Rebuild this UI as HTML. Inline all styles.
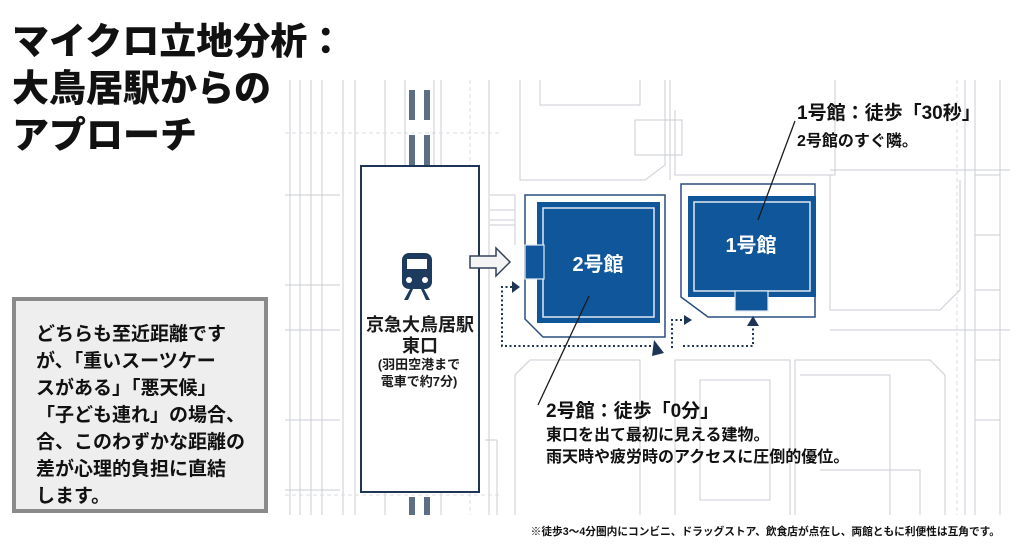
<!DOCTYPE html>
<html><head><meta charset="utf-8"><style>
html,body{margin:0;padding:0;background:#fff;}
body{width:1024px;height:552px;position:relative;overflow:hidden;font-family:"Liberation Sans","Noto Sans CJK JP",sans-serif;}
.t{position:absolute;left:12px;top:18px;font-size:37px;font-weight:900;line-height:47px;color:#111;}
.box{position:absolute;left:12px;top:297px;width:248px;height:208px;border:4px solid #8a8a8a;background:#eeeeee;}
.box div{position:absolute;left:20px;top:20px;font-size:19px;font-weight:bold;line-height:27px;color:#111;white-space:nowrap;}
svg{position:absolute;left:0;top:0;}
</style></head><body>
<svg width="1024" height="552" viewBox="0 0 1024 552" font-family="Liberation Sans, Noto Sans CJK JP, sans-serif">
<g stroke="#c9ced6" stroke-width="1" fill="none">
 <line x1="290" y1="80" x2="290" y2="515"/><line x1="300" y1="80" x2="300" y2="515"/>
 <line x1="311" y1="80" x2="311" y2="515"/><line x1="322" y1="80" x2="322" y2="515"/>
 <line x1="343" y1="80" x2="343" y2="515"/><line x1="355" y1="80" x2="355" y2="515"/>
 <line x1="385" y1="80" x2="385" y2="165"/><line x1="441" y1="80" x2="441" y2="165"/>
 <line x1="385" y1="492" x2="385" y2="515"/><line x1="441" y1="492" x2="441" y2="515"/>
 <line x1="489" y1="80" x2="489" y2="515"/>
 <path d="M520 80 V180 H645 L665 165 V80"/>
 <path d="M540 80 V105 H640 V80"/>
 <line x1="670" y1="80" x2="670" y2="180"/>
 <path d="M675 110 V175 H835 V80"/>
 <path d="M635 120 V155 H682 V120 Z"/>
 <line x1="830" y1="170" x2="1010" y2="170"/>
 <path d="M830 175 V310 H940 L960 290 V180"/>
 <line x1="965" y1="80" x2="965" y2="515"/><line x1="975" y1="80" x2="975" y2="515"/>
 <line x1="1000" y1="80" x2="1000" y2="515"/>
 <path d="M975 175 H1000 M975 235 H1000 M975 290 H1000 M975 330 H1000 M975 360 H1000 M975 420 H1000"/>
 <line x1="285" y1="195" x2="340" y2="195"/><line x1="285" y1="285" x2="340" y2="285"/>
 <line x1="285" y1="330" x2="340" y2="330"/><line x1="285" y1="420" x2="340" y2="420"/>
 <line x1="285" y1="490" x2="340" y2="490"/>
 <path d="M515 515 V375 L530 360 H640 V515"/>
 <path d="M675 515 V360 H790 V515"/>
 <path d="M795 515 V360 H930 L945 375 V515"/>
 <path d="M700 380 H770 V500 H700 Z"/>
 <path d="M800 375 H890 V515"/>
 <path d="M820 470 H920 V515"/>
 <line x1="830" y1="330" x2="1010" y2="330"/>
 <path d="M490 195 H515 V245 M490 210 H515 M490 220 H515 M490 225 H515"/>
 <path d="M497 440 V515 M485 440 H497"/>
</g>
<g stroke="#d8dce2" stroke-width="1" stroke-dasharray="4 3" fill="none">
 <line x1="285" y1="133" x2="500" y2="133"/><line x1="285" y1="495" x2="500" y2="495"/>
 <line x1="470" y1="80" x2="470" y2="515"/><line x1="957" y1="80" x2="957" y2="515"/>
</g>
<g fill="#5c6f85">
 <rect x="409" y="90" width="6" height="30"/><rect x="424" y="90" width="6" height="30"/>
 <rect x="409" y="135" width="6" height="30"/><rect x="424" y="135" width="6" height="30"/>
 <rect x="409" y="497" width="6" height="18"/><rect x="424" y="497" width="6" height="18"/>
</g>
<g stroke="#c9ced6" fill="none"><line x1="405" y1="80" x2="405" y2="165"/><line x1="434" y1="80" x2="434" y2="165"/></g>
<rect x="361" y="166" width="118" height="326" fill="#fff" stroke="#1f3556" stroke-width="2"/>
<g fill="#1d3b5e">
 <rect x="402" y="253" width="30" height="36" rx="7"/>
 <path d="M404 300 L410 289 L413 289 L408 300Z M430 300 L424 289 L421 289 L426 300Z"/>
</g>
<rect x="407" y="259" width="20" height="10" fill="#fff"/>
<circle cx="409" cy="280" r="3" fill="#fff"/><circle cx="425" cy="280" r="3" fill="#fff"/>
<g fill="#1a1a1a" font-weight="bold" text-anchor="middle">
 <text x="420" y="331" font-size="18">京急大鳥居駅</text>
 <text x="420" y="352" font-size="18">東口</text>
 <text x="419" y="369" font-size="13">(羽田空港まで</text>
 <text x="419" y="386" font-size="13">電車で約7分)</text>
</g>
<path d="M470 256 H496 V248 L510 262 L496 276 V268 H470 Z" fill="#f4f4f4" stroke="#33425a" stroke-width="1.5"/>
<path d="M525 195 H665 V337 H543 L525 319 Z" fill="#fff" stroke="#2a4f80" stroke-width="1.5"/>
<rect x="537" y="202" width="123" height="121" fill="#0f569b"/>
<rect x="543" y="208" width="111" height="109" fill="none" stroke="#dfe8f2" stroke-width="1.5"/>
<rect x="525" y="245" width="19" height="34" fill="#0f569b" stroke="#dfe8f2" stroke-width="1.2"/>
<text x="598" y="271" font-size="20" font-weight="bold" fill="#fff" text-anchor="middle">2号館</text>
<path d="M681 184 H815 V317 H708 L681 297 Z" fill="#fff" stroke="#2a4f80" stroke-width="1.5"/>
<rect x="688" y="196" width="128" height="101" fill="#0f569b"/>
<rect x="694" y="202" width="116" height="89" fill="none" stroke="#dfe8f2" stroke-width="1.5"/>
<rect x="735" y="291" width="33" height="20" fill="#0f569b" stroke="#dfe8f2" stroke-width="1.2"/>
<text x="751" y="252" font-size="20" font-weight="bold" fill="#fff" text-anchor="middle">1号館</text>
<g stroke="#1f3556" stroke-width="2" stroke-dasharray="2 2.5" fill="none">
 <path d="M512 287 H502 V346 H654"/>
 <path d="M672 348 V320 H682"/>
 <path d="M683 346 H753 V322"/>
</g>
<g fill="#1f3556">
 <path d="M512 281 L520 287 L512 293Z"/>
 <path d="M654 340 L664 353 L652 356Z"/>
 <path d="M684 315 L692 320 L684 325Z"/>
 <path d="M747 326 L753 316 L759 326Z"/>
</g>
<line x1="795" y1="121" x2="758" y2="220" stroke="#1a1a1a" stroke-width="1.3"/>
<line x1="589" y1="296" x2="538" y2="405" stroke="#1a1a1a" stroke-width="1.3"/>
<g fill="#111" font-weight="bold">
 <text x="797" y="119" font-size="19">1号館：徒歩「30秒」</text>
 <text x="797" y="146" font-size="16">2号館のすぐ隣。</text>
 <text x="546" y="417" font-size="19">2号館：徒歩「0分」</text>
 <text x="546" y="440" font-size="16">東口を出て最初に見える建物。</text>
 <text x="546" y="462" font-size="16">雨天時や疲労時のアクセスに圧倒的優位。</text>
 <text x="1000" y="535" font-size="10.7" text-anchor="end">※徒歩3〜4分圏内にコンビニ、ドラッグストア、飲食店が点在し、両館ともに利便性は互角です。</text>
</g>
</svg>
<div class="t">マイクロ立地分析：<br>大鳥居駅からの<br>アプローチ</div>
<div class="box"><div>どちらも至近距離です<br>が、「重いスーツケー<br>スがある」「悪天候」<br>「子ども連れ」の場合、<br>合、このわずかな距離の<br>差が心理的負担に直結<br>します。</div></div>
</body></html>
